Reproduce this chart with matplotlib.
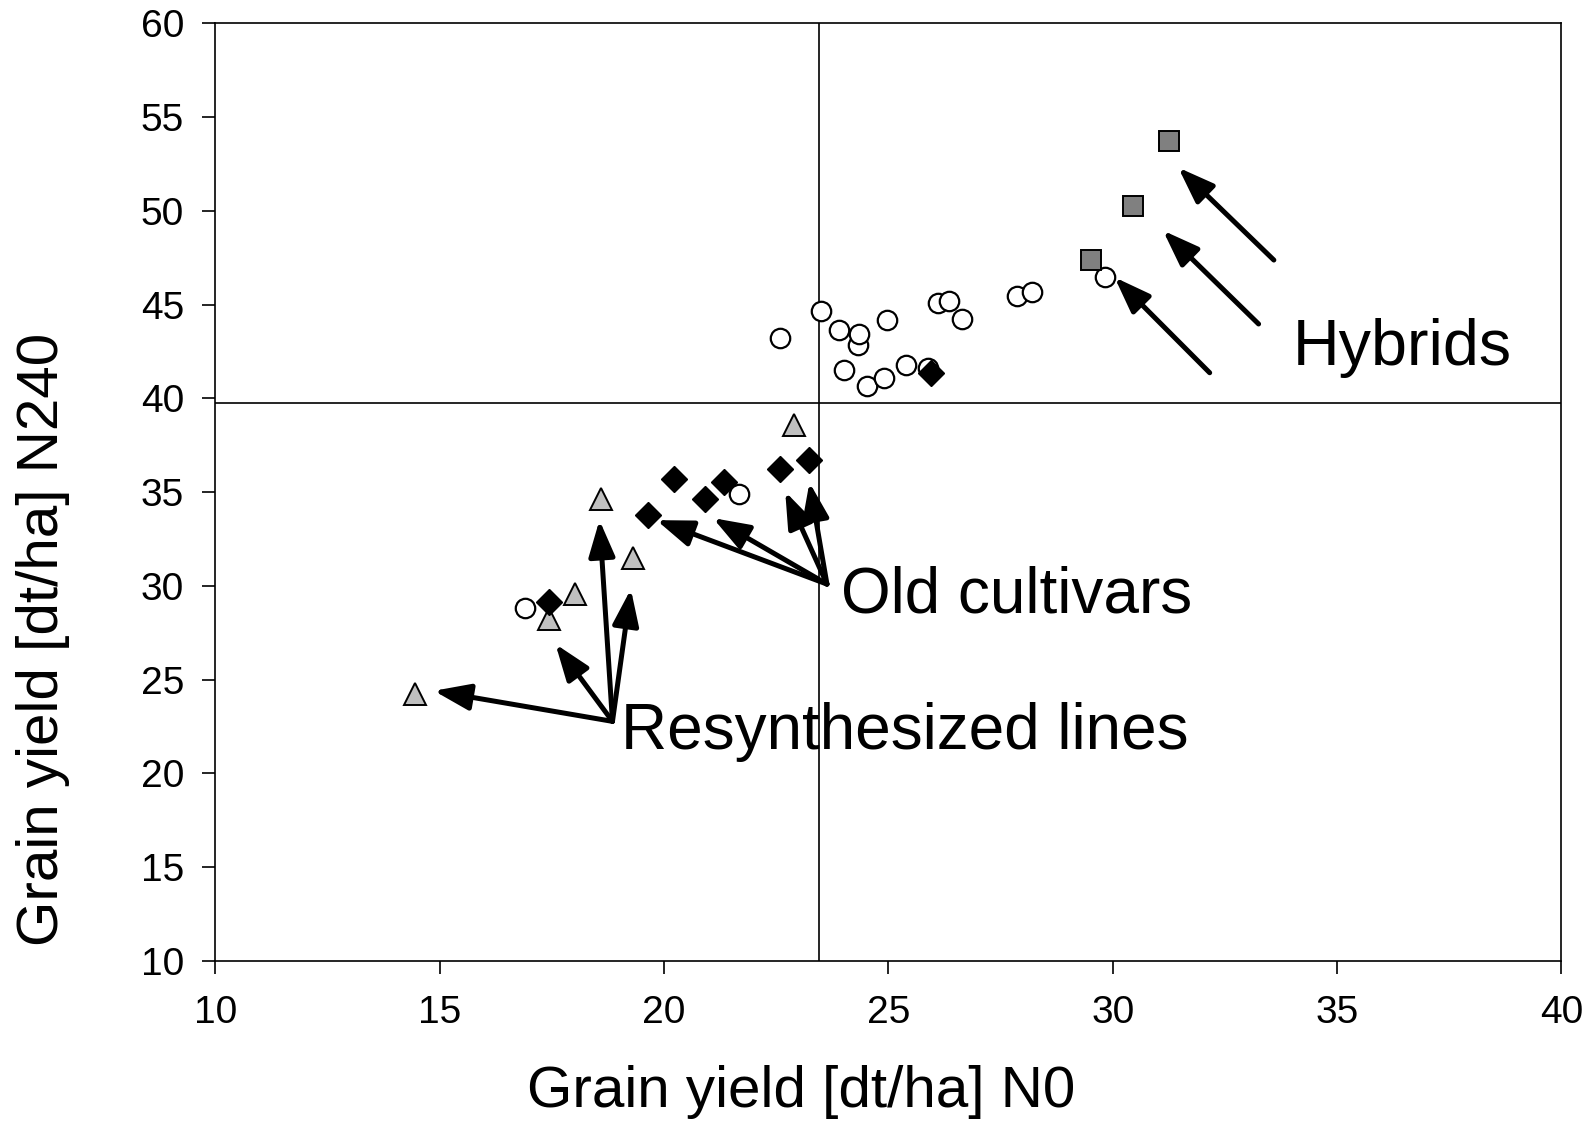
import matplotlib

matplotlib.use("Agg")
import matplotlib.pyplot as plt

plt.rcParams["font.family"] = ["Liberation Sans", "DejaVu Sans"]

# Grain yield [dt/ha] at N0 (x) and N240 (y), per group
CULT_X = [22.59, 23.49, 23.90, 24.33, 24.35, 24.96, 24.01, 24.53, 24.90, 25.40,
          25.89, 26.10, 26.35, 26.64, 27.86, 28.20, 29.83, 21.66, 16.91]
CULT_Y = [43.21, 44.67, 43.64, 42.83, 43.42, 44.18, 41.53, 40.66, 41.09, 41.80,
          41.64, 45.10, 45.21, 44.24, 45.48, 45.70, 46.46, 34.92, 28.85]

OLD_X = [25.94, 20.23, 19.64, 20.91, 21.34, 22.59, 23.24, 17.43]
OLD_Y = [41.37, 35.68, 33.78, 34.65, 35.57, 36.22, 36.71, 29.12]

RESYN_X = [22.90, 18.60, 19.30, 18.01, 17.43, 14.46]
RESYN_Y = [38.60, 34.65, 31.51, 29.55, 28.26, 24.25]

HYB_X = [31.26, 30.44, 29.52]
HYB_Y = [53.72, 50.25, 47.38]

MEAN_X = 23.45
MEAN_Y = 39.74

# annotation arrows: (tail, head) in data units
HYB_ARROWS = [((33.59, 47.38), (31.46, 52.31)),
              ((33.25, 43.97), (31.12, 48.95)),
              ((32.16, 41.37), (30.04, 46.46))]
OLD_TAIL = (23.63, 30.10)
OLD_HEADS = [(19.83, 33.51), (21.09, 33.62), (22.70, 35.03), (23.24, 35.52)]
RESYN_TAIL = (18.85, 22.78)
RESYN_HEADS = [(14.87, 24.41), (17.58, 26.90), (18.56, 33.51), (19.26, 29.83)]

fig = plt.figure(figsize=(15.93, 11.24), dpi=100)
ax = fig.add_axes([0.1352, 0.145, 0.845, 0.8342])

ax.axvline(MEAN_X, color="black", lw=1.2, zorder=1)
ax.axhline(MEAN_Y, color="black", lw=1.2, zorder=1)

ax.plot(CULT_X, CULT_Y, "o", ms=14, mfc="white", mec="black", mew=1.6, zorder=3)
ax.plot(RESYN_X, RESYN_Y, "^", ms=16.5, mfc="#C0C0C0", mec="black", mew=1.4, zorder=4)
ax.plot(OLD_X, OLD_Y, "D", ms=13.5, mfc="black", mec="black", mew=1, zorder=5)
ax.plot(HYB_X, HYB_Y, "s", ms=14.5, mfc="#808080", mec="black", mew=1.4, zorder=4)

arrow_kw = dict(arrowstyle="-|>,head_length=1.1,head_width=0.4", lw=3.6,
                color="black", shrinkA=0, shrinkB=0, mutation_scale=20)
for tail, head in HYB_ARROWS:
    ax.annotate("", xy=head, xytext=tail, arrowprops=arrow_kw, zorder=6)
for head in OLD_HEADS:
    ax.annotate("", xy=head, xytext=OLD_TAIL, arrowprops=arrow_kw, zorder=6)
for head in RESYN_HEADS:
    ax.annotate("", xy=head, xytext=RESYN_TAIL, arrowprops=arrow_kw, zorder=6)

ax.text(34.02, 41.80, "Hybrids", fontsize=46.5, ha="left", va="baseline")
ax.text(23.95, 28.58, "Old cultivars", fontsize=46, ha="left", va="baseline")
ax.text(19.03, 21.32, "Resynthesized lines", fontsize=46, ha="left", va="baseline")

ax.set_xlim(10, 40)
ax.set_ylim(10, 60)
ax.set_xticks(range(10, 41, 5))
ax.set_yticks(range(10, 61, 5))
ax.tick_params(direction="out", length=9.5, width=1.2, labelsize=28,
               top=False, right=False)
ax.tick_params(axis="x", pad=15)
ax.tick_params(axis="y", pad=13)
for sp in ax.spines.values():
    sp.set_linewidth(1.2)

ax.set_xlabel("Grain yield [dt/ha] N0", fontsize=42, va="center")
ax.set_ylabel("Grain yield [dt/ha] N240", fontsize=42, va="center")
ax.xaxis.set_label_coords(0.5026, 0.0285, transform=fig.transFigure)
ax.yaxis.set_label_coords(0.0268, 0.431, transform=fig.transFigure)

fig.savefig("out.png", dpi=100)
